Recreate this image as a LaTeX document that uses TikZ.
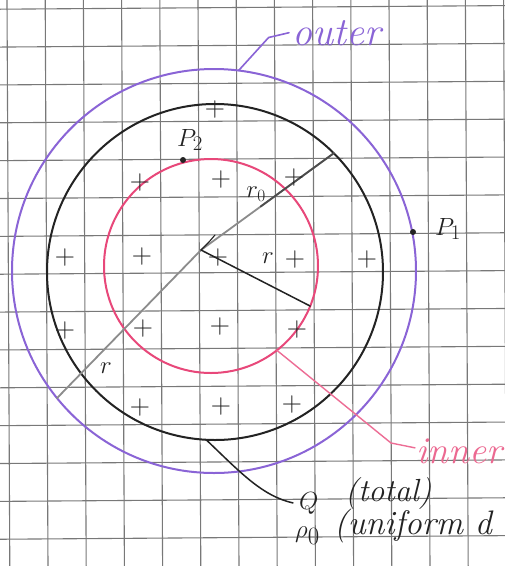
\documentclass[tikz,border=0pt]{standalone}
\usetikzlibrary{calc}
\definecolor{hpurple}{RGB}{138,100,214}
\definecolor{hpink}{RGB}{232,72,122}
\definecolor{hpinktext}{RGB}{236,105,145}
\definecolor{hink}{RGB}{35,35,35}
\definecolor{hgrid}{RGB}{120,120,120}
\tikzset{
  gridline/.style={draw=hgrid, line width=1.1pt},
  ring/.style={circle, inner sep=0pt, outer sep=0pt, line width=2pt},
  inkline/.style={draw=hink, line width=1.5pt, line cap=round},
  pencil/.style={draw=black!45, line width=1.8pt, line cap=round},
  plus/.style={inner sep=0pt, text=hink, font=\fontsize{28}{30}\selectfont},
  dotmark/.style={circle, fill=hink, inner sep=0pt, minimum size=6pt},
  hand/.style={inner sep=0pt, text=hink}
}
\begin{document}
\begin{tikzpicture}[x=1pt,y=-1pt]
\useasboundingbox (0,0) rectangle (505,566);
\fill[white] (0,0) rectangle (505,566);
\clip (0,0) rectangle (505,566);
% graph paper
\foreach \k in {0,...,14} \draw[gridline] (0,{9.2+37.86*\k}) -- (505,{5.6+37.86*\k});
\foreach \j in {0,...,13} \draw[gridline] ({7+38.2*\j},0) -- ({9.8+38.2*\j},566);
% circles
\node[ring, draw=hpurple, minimum size=404pt] (outc) at (214,271) {};
\node[ring, draw=hink, minimum size=336pt] (chg) at (215,272) {};
\node[ring, draw=hpink, minimum size=214pt] (inc) at (211,266) {};
% radius lines
\coordinate (ctr) at (201,250);
\draw[pencil] (ctr) -- (outc.219);
\draw[pencil] (ctr) -- (chg.45);
\draw[draw=black!70, line width=1.8pt, line cap=round] ($(ctr)!0.45!(chg.45)$) -- (chg.45);
\draw[inkline] (ctr) -- (inc.-22);
\draw[inkline, line width=1.1pt] (ctr) -- ++(8,-8) -- ++(6,-7);
% plus signs
\foreach \x/\y [count=\i] in {215/110,
  140/183, 221/180, 294/178,
  65/258, 142/257, 218/258, 295/260, 367/260,
  65/331, 143/329, 220/327, 297/330,
  140/408, 221/407, 292/405}
  \node[plus] (pl\i) at (\x,\y) {+};
% labels of radii
\node[hand, font=\fontsize{26}{28}\selectfont] (lrzero) at (256,194) {$r_{0}$};
\node[hand, font=\fontsize{38}{40}\selectfont] (lrone) at (268,258) {$r$};
\node[hand, font=\fontsize{32}{34}\selectfont] (lrtwo) at (106,368) {$r$};
% points
\node[dotmark] (ptwo) at (183,160) {};
\node[hand, font=\fontsize{28}{30}\selectfont] (lptwo) at (190,140) {$P_{2}$};
\node[dotmark] (pone) at (413,232) {};
\node[hand, font=\fontsize{32}{34}\selectfont] (lpone) at (448,229) {$P_{1}$};
% outer label
\node[hand, text=hpurple, anchor=base west, font=\fontsize{40}{42}\selectfont\itshape] (outl) at (292,45) {outer};
\draw[draw=hpurple, line width=1.6pt, line cap=round] (outc.83) -- ++(30,-33) -- ($(outl.west)+(-3,0)$);
% inner label
\node[hand, text=hpinktext, anchor=base west, font=\fontsize{38}{40}\selectfont\itshape] (innl) at (416,463) {inner};
\draw[draw=hpink!80, line width=1.4pt, line cap=round] (inc.-52) -- (391,443) -- ($(innl.west)+(-1,-3)$);
% charge labels
\node[hand, anchor=base west, font=\fontsize{32}{34}\selectfont] (ql) at (299,509) {$Q$};
\node[hand, anchor=base west, font=\fontsize{32}{34}\selectfont\itshape] (totl) at (345,501) {(total)};
\draw[inkline] (chg.-93) .. controls (240,472) and (262,496) .. ($(ql.west)+(-6,0)$);
\node[hand, anchor=base west, font=\fontsize{34}{36}\selectfont] (rhol) at (295,537) {$\rho_{0}$};
\node[hand, anchor=base west, font=\fontsize{34}{36}\selectfont\itshape] (unil) at (334,534) {(uniform d};
\end{tikzpicture}
\end{document}
